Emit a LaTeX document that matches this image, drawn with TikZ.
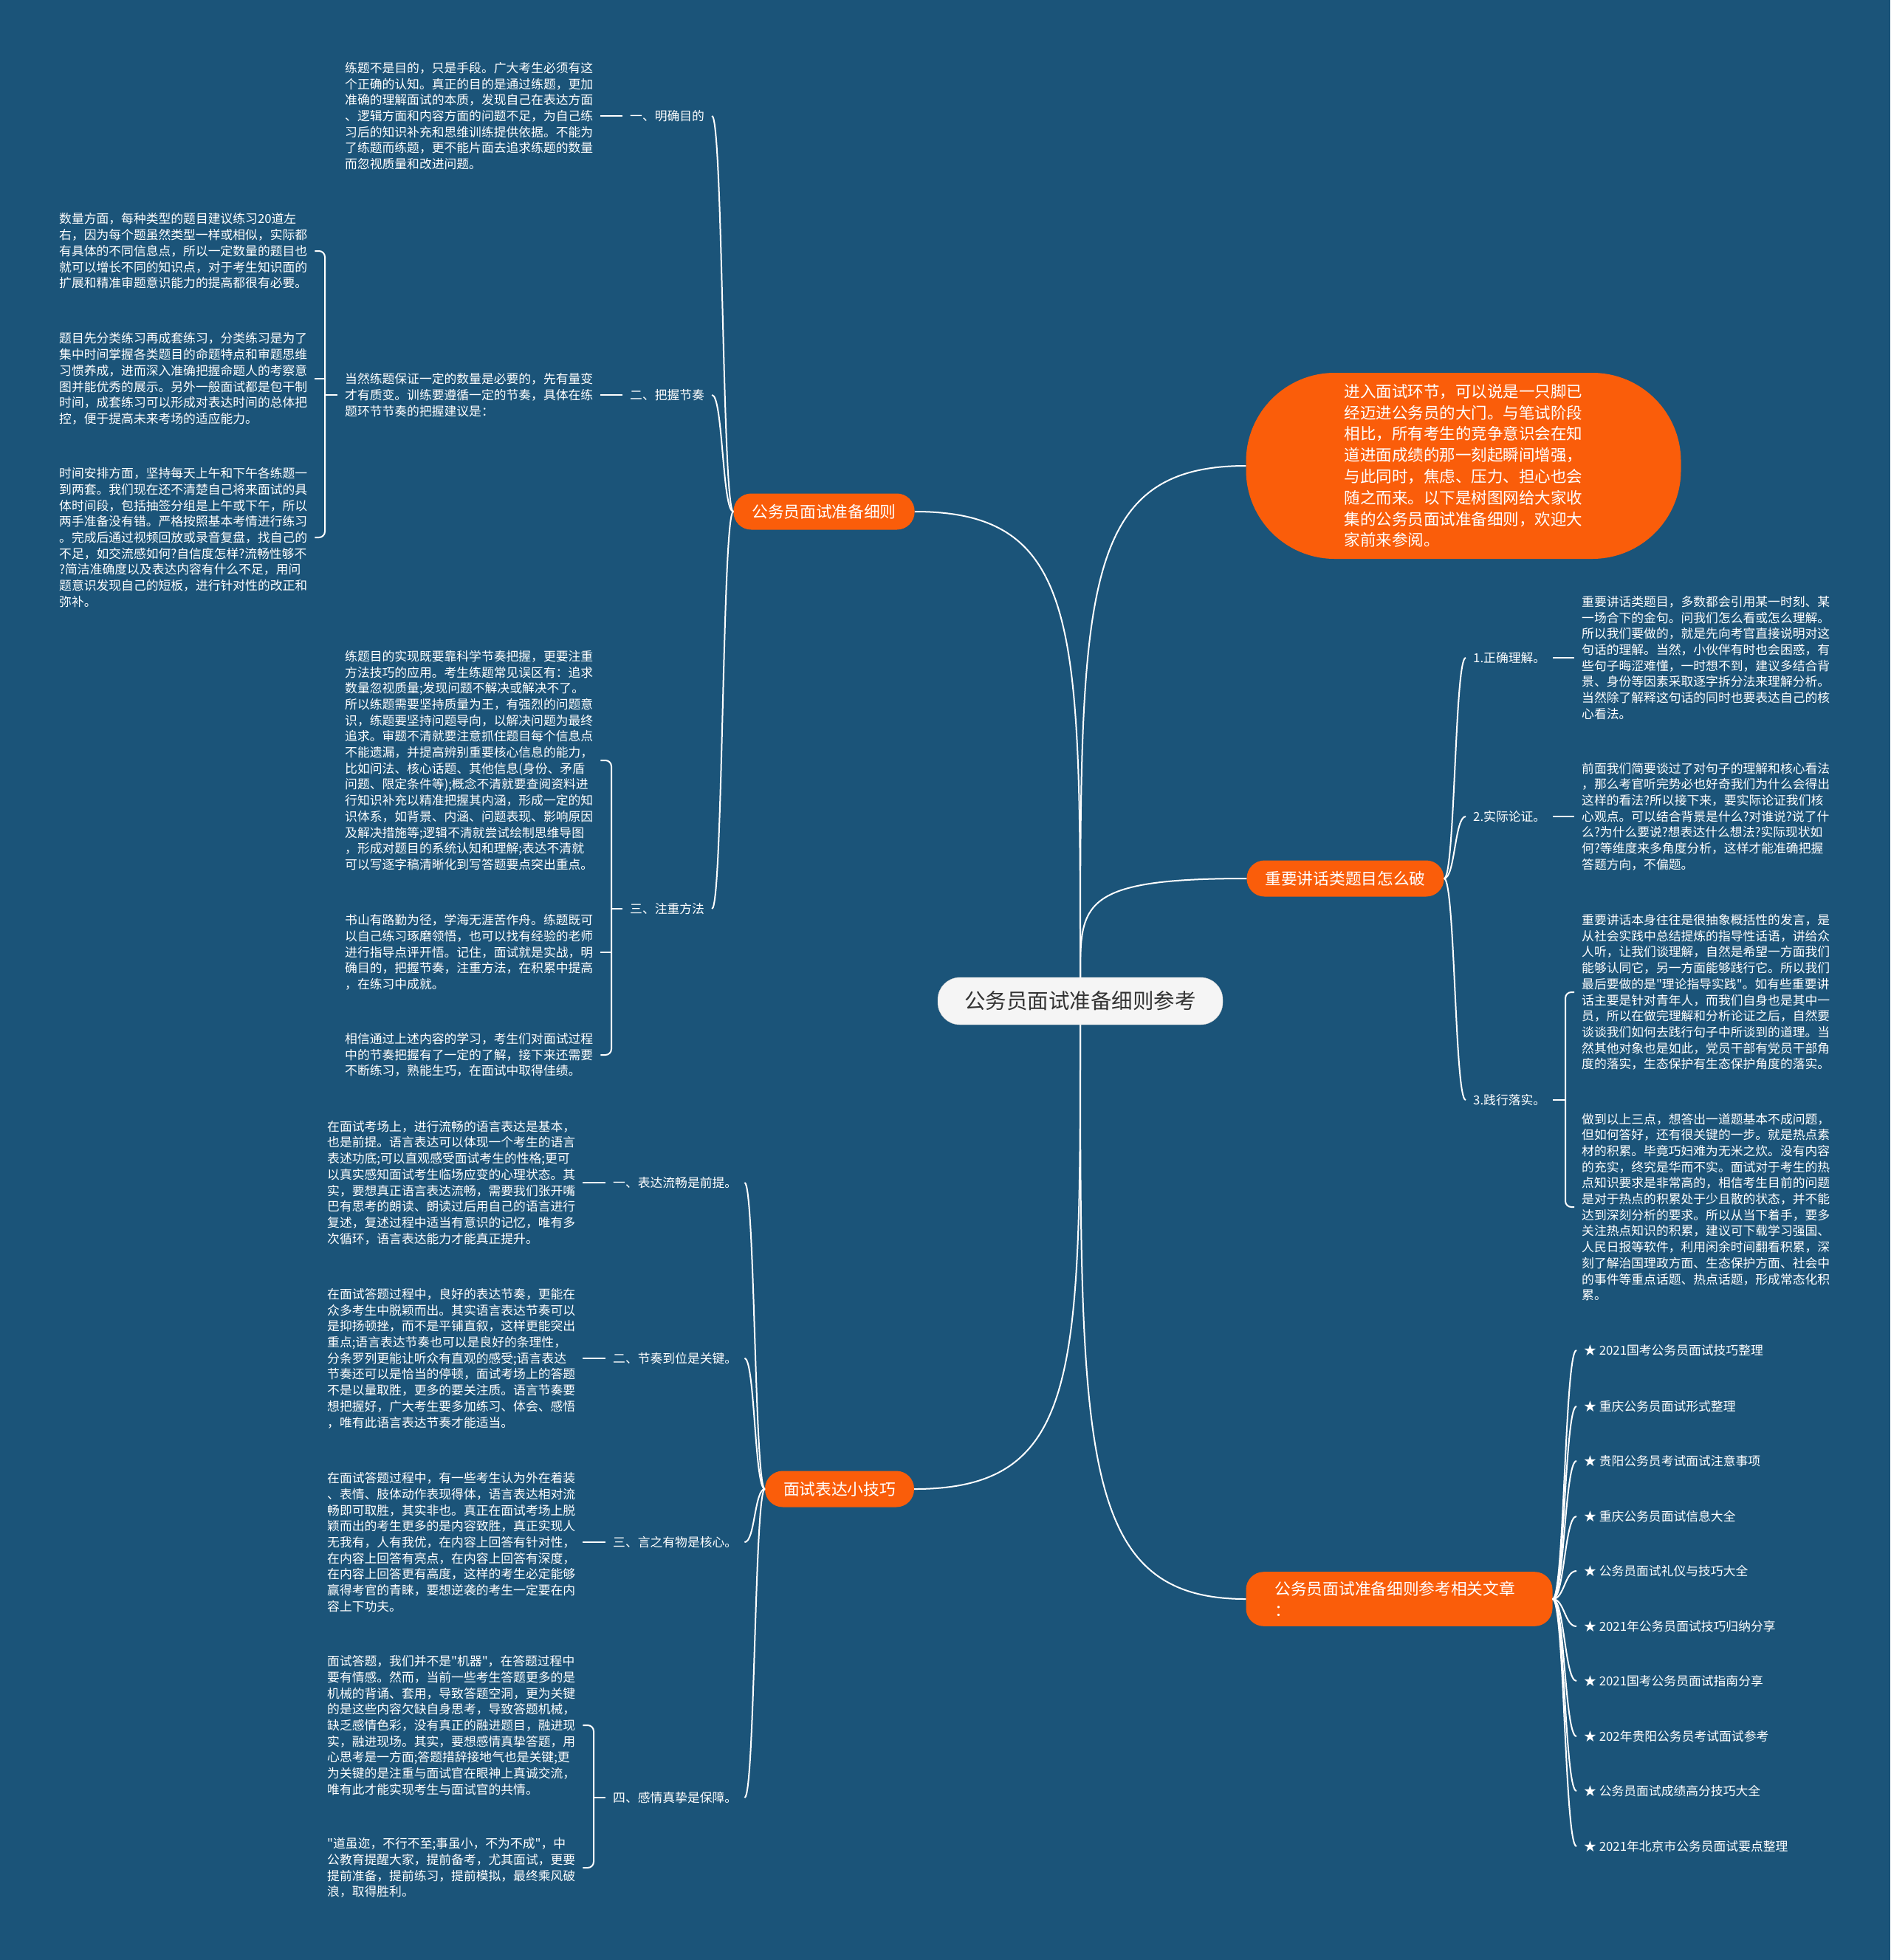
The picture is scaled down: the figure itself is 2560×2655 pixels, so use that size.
\documentclass[tikz,border=0pt]{standalone}
\usepackage{fontspec}
\setmainfont{Noto Sans CJK SC}[Ligatures=TeXOff]
\definecolor{bgblue}{RGB}{27,84,121}
\definecolor{hotorange}{RGB}{250,93,10}
\definecolor{hubfill}{RGB}{245,245,245}
\definecolor{hubtext}{RGB}{51,51,51}
\begin{document}
\begin{tikzpicture}[x=1pt, y=-1pt,
    hub/.style={draw=gray!40, fill=hubfill, text=hubtext, rounded corners=30pt,
                minimum width=386pt, minimum height=64pt,
                font=\fontsize{28.5}{34}\selectfont},
    branch/.style={fill=hotorange, text=white, rounded corners=24pt,
                   minimum height=49pt, inner xsep=25pt,
                   font=\fontsize{21.7}{29}\selectfont},
    note/.style={text=white, align=left, anchor=west, inner xsep=10pt, inner ysep=0pt,
                 font=\fontsize{16.8}{21.7}\selectfont},
    tag/.style={note},
    link/.style={draw=white, line width=2pt},
    brace/.style={link, rounded corners=8pt}]

  % ---- canvas
  \fill[bgblue] (0,0) rectangle (2560,2655);

  % ---- centre and the five main branches
  \node[hub] (root) at (1463,1356) {公务员面试准备细则参考};
  \node[branch] (prep) at (1116,693) {公务员面试准备细则};
  \node[branch] (expr) at (1137,2017) {面试表达小技巧};
  \node[branch] (talk) at (1822,1190) {重要讲话类题目怎么破};
  \node[branch, align=left, text width=337pt, inner xsep=39pt, inner ysep=13pt]
    (more) at (1895,2166) {公务员面试准备细则参考相关文章\\：};
  \node[fill=hotorange, text=white, rounded corners=120pt, align=left,
        minimum width=589pt, minimum height=252pt,
        font=\fontsize{21.5}{28.8}\selectfont] (lead) at (1982,631)
    {进入面试环节，可以说是一只脚已\\
     经迈进公务员的大门。与笔试阶段\\
     相比，所有考生的竞争意识会在知\\
     道进面成绩的那一刻起瞬间增强，\\
     与此同时，焦虑、压力、担心也会\\
     随之而来。以下是树图网给大家收\\
     集的公务员面试准备细则，欢迎大\\
     家前来参阅。};

  \draw[link] (root.north) .. controls +(0,-473) and +(225,0) .. (prep.east);
  \draw[link] (root.north) .. controls +(0,-520) and +(-225,0) .. (lead.west);
  \draw[link] (root.north) .. controls +(0,-100) and +(-225,0) .. (talk.west);
  \draw[link] (root.south) .. controls +(0,472) and +(225,0) .. (expr.east);
  \draw[link] (root.south) .. controls +(0,583) and +(-225,0) .. (more.west);

  % ---- 公务员面试准备细则
  \node[tag] (p1) at (843,157) {一、明确目的};
  \node[tag] (p2) at (843,535) {二、把握节奏};
  \node[tag] (p3) at (843,1231) {三、注重方法};
  \draw[link] (prep.west) .. controls +(-15,0) and +(15,0) .. (p1.east);
  \draw[link] (prep.west) .. controls +(-15,0) and +(15,0) .. (p2.east);
  \draw[link] (prep.west) .. controls +(-15,0) and +(15,0) .. (p3.east);

  \node[note] (p1a) at (457,157)
    {练题不是目的，只是手段。广大考生必须有这\\
     个正确的认知。真正的目的是通过练题，更加\\
     准确的理解面试的本质，发现自己在表达方面\\
     、逻辑方面和内容方面的问题不足，为自己练\\
     习后的知识补充和思维训练提供依据。不能为\\
     了练题而练题，更不能片面去追求练题的数量\\
     而忽视质量和改进问题。};
  \draw[link] (p1a) -- (p1);

  \node[note] (p2a) at (457,535)
    {当然练题保证一定的数量是必要的，先有量变\\
     才有质变。训练要遵循一定的节奏，具体在练\\
     题环节节奏的把握建议是：};
  \draw[link] (p2a) -- (p2);
  \node[note] (p2b) at (70,340)
    {数量方面，每种类型的题目建议练习20道左\\
     右，因为每个题虽然类型一样或相似，实际都\\
     有具体的不同信息点，所以一定数量的题目也\\
     就可以增长不同的知识点，对于考生知识面的\\
     扩展和精准审题意识能力的提高都很有必要。};
  \node[note] (p2c) at (70,513)
    {题目先分类练习再成套练习，分类练习是为了\\
     集中时间掌握各类题目的命题特点和审题思维\\
     习惯养成，进而深入准确把握命题人的考察意\\
     图并能优秀的展示。另外一般面试都是包干制\\
     时间，成套练习可以形成对表达时间的总体把\\
     控，便于提高未来考场的适应能力。};
  \node[note] (p2d) at (70,728)
    {时间安排方面，坚持每天上午和下午各练题一\\
     到两套。我们现在还不清楚自己将来面试的具\\
     体时间段，包括抽签分组是上午或下午，所以\\
     两手准备没有错。严格按照基本考情进行练习\\
     。完成后通过视频回放或录音复盘，找自己的\\
     不足，如交流感如何?自信度怎样?流畅性够不\\
     ?简洁准确度以及表达内容有什么不足，用问\\
     题意识发现自己的短板，进行针对性的改正和\\
     弥补。};
  \coordinate (p2k) at (440,535);
  \draw[brace] (p2b.east) -- (p2b.east -| p2k) -- (p2d.east -| p2k) -- (p2d.east);
  \draw[link] (p2c.east) -- (p2c.east -| p2k);
  \draw[link] (p2k) -- (p2a);

  \node[note] (p3a) at (457,1030)
    {练题目的实现既要靠科学节奏把握，更要注重\\
     方法技巧的应用。考生练题常见误区有：追求\\
     数量忽视质量;发现问题不解决或解决不了。\\
     所以练题需要坚持质量为王，有强烈的问题意\\
     识，练题要坚持问题导向，以解决问题为最终\\
     追求。审题不清就要注意抓住题目每个信息点\\
     不能遗漏，并提高辨别重要核心信息的能力，\\
     比如问法、核心话题、其他信息(身份、矛盾\\
     问题、限定条件等);概念不清就要查阅资料进\\
     行知识补充以精准把握其内涵，形成一定的知\\
     识体系，如背景、内涵、问题表现、影响原因\\
     及解决措施等;逻辑不清就尝试绘制思维导图\\
     ，形成对题目的系统认知和理解;表达不清就\\
     可以写逐字稿清晰化到写答题要点突出重点。};
  \node[note] (p3b) at (457,1290)
    {书山有路勤为径，学海无涯苦作舟。练题既可\\
     以自己练习琢磨领悟，也可以找有经验的老师\\
     进行指导点评开悟。记住，面试就是实战，明\\
     确目的，把握节奏，注重方法，在积累中提高\\
     ，在练习中成就。};
  \node[note] (p3c) at (457,1429)
    {相信通过上述内容的学习，考生们对面试过程\\
     中的节奏把握有了一定的了解，接下来还需要\\
     不断练习，熟能生巧，在面试中取得佳绩。};
  \coordinate (p3k) at (828,1231);
  \draw[brace] (p3a.east) -- (p3a.east -| p3k) -- (p3c.east -| p3k) -- (p3c.east);
  \draw[link] (p3b.east) -- (p3b.east -| p3k);
  \draw[link] (p3k) -- (p3);

  % ---- 重要讲话类题目怎么破
  \node[tag] (t1) at (1985,891) {1.正确理解。};
  \node[tag] (t2) at (1985,1106) {2.实际论证。};
  \node[tag] (t3) at (1985,1490) {3.践行落实。};
  \draw[link] (talk.east) .. controls +(15,0) and +(-15,0) .. (t1.west);
  \draw[link] (talk.east) .. controls +(15,0) and +(-15,0) .. (t2.west);
  \draw[link] (talk.east) .. controls +(15,0) and +(-15,0) .. (t3.west);

  \node[note] (t1a) at (2132,891)
    {重要讲话类题目，多数都会引用某一时刻、某\\
     一场合下的金句。问我们怎么看或怎么理解。\\
     所以我们要做的，就是先向考官直接说明对这\\
     句话的理解。当然，小伙伴有时也会困惑，有\\
     些句子晦涩难懂，一时想不到，建议多结合背\\
     景、身份等因素采取逐字拆分法来理解分析。\\
     当然除了解释这句话的同时也要表达自己的核\\
     心看法。};
  \draw[link] (t1) -- (t1a);
  \node[note] (t2a) at (2132,1106)
    {前面我们简要谈过了对句子的理解和核心看法\\
     ，那么考官听完势必也好奇我们为什么会得出\\
     这样的看法?所以接下来，要实际论证我们核\\
     心观点。可以结合背景是什么?对谁说?说了什\\
     么?为什么要说?想表达什么想法?实际现状如\\
     何?等维度来多角度分析，这样才能准确把握\\
     答题方向，不偏题。};
  \draw[link] (t2) -- (t2a);
  \node[note] (t3a) at (2132,1344)
    {重要讲话本身往往是很抽象概括性的发言，是\\
     从社会实践中总结提炼的指导性话语，讲给众\\
     人听，让我们谈理解，自然是希望一方面我们\\
     能够认同它，另一方面能够践行它。所以我们\\
     最后要做的是"理论指导实践"。如有些重要讲\\
     话主要是针对青年人，而我们自身也是其中一\\
     员，所以在做完理解和分析论证之后，自然要\\
     谈谈我们如何去践行句子中所谈到的道理。当\\
     然其他对象也是如此，党员干部有党员干部角\\
     度的落实，生态保护有生态保护角度的落实。};
  \node[note] (t3b) at (2132,1635)
    {做到以上三点，想答出一道题基本不成问题，\\
     但如何答好，还有很关键的一步。就是热点素\\
     材的积累。毕竟巧妇难为无米之炊。没有内容\\
     的充实，终究是华而不实。面试对于考生的热\\
     点知识要求是非常高的，相信考生目前的问题\\
     是对于热点的积累处于少且散的状态，并不能\\
     达到深刻分析的要求。所以从当下着手，要多\\
     关注热点知识的积累，建议可下载学习强国、\\
     人民日报等软件，利用闲余时间翻看积累，深\\
     刻了解治国理政方面、生态保护方面、社会中\\
     的事件等重点话题、热点话题，形成常态化积\\
     累。};
  \coordinate (t3k) at (2120,1490);
  \draw[link] (t3) -- (t3k);
  \draw[brace] (t3a.west) -- (t3a.west -| t3k) -- (t3b.west -| t3k) -- (t3b.west);

  % ---- 面试表达小技巧
  \node[tag] (e1) at (820,1602) {一、表达流畅是前提。};
  \node[tag] (e2) at (820,1840) {二、节奏到位是关键。};
  \node[tag] (e3) at (820,2089) {三、言之有物是核心。};
  \node[tag] (e4) at (820,2435) {四、感情真挚是保障。};
  \draw[link] (expr.west) .. controls +(-14,0) and +(14,0) .. (e1.east);
  \draw[link] (expr.west) .. controls +(-14,0) and +(14,0) .. (e2.east);
  \draw[link] (expr.west) .. controls +(-14,0) and +(14,0) .. (e3.east);
  \draw[link] (expr.west) .. controls +(-14,0) and +(14,0) .. (e4.east);

  \node[note] (e1a) at (433,1602)
    {在面试考场上，进行流畅的语言表达是基本，\\
     也是前提。语言表达可以体现一个考生的语言\\
     表述功底;可以直观感受面试考生的性格;更可\\
     以真实感知面试考生临场应变的心理状态。其\\
     实，要想真正语言表达流畅，需要我们张开嘴\\
     巴有思考的朗读、朗读过后用自己的语言进行\\
     复述，复述过程中适当有意识的记忆，唯有多\\
     次循环，语言表达能力才能真正提升。};
  \draw[link] (e1a) -- (e1);
  \node[note] (e2a) at (433,1840)
    {在面试答题过程中，良好的表达节奏，更能在\\
     众多考生中脱颖而出。其实语言表达节奏可以\\
     是抑扬顿挫，而不是平铺直叙，这样更能突出\\
     重点;语言表达节奏也可以是良好的条理性，\\
     分条罗列更能让听众有直观的感受;语言表达\\
     节奏还可以是恰当的停顿，面试考场上的答题\\
     不是以量取胜，更多的要关注质。语言节奏要\\
     想把握好，广大考生要多加练习、体会、感悟\\
     ，唯有此语言表达节奏才能适当。};
  \draw[link] (e2a) -- (e2);
  \node[note] (e3a) at (433,2089)
    {在面试答题过程中，有一些考生认为外在着装\\
     、表情、肢体动作表现得体，语言表达相对流\\
     畅即可取胜，其实非也。真正在面试考场上脱\\
     颖而出的考生更多的是内容致胜，真正实现人\\
     无我有，人有我优，在内容上回答有针对性，\\
     在内容上回答有亮点，在内容上回答有深度，\\
     在内容上回答更有高度，这样的考生必定能够\\
     赢得考官的青睐，要想逆袭的考生一定要在内\\
     容上下功夫。};
  \draw[link] (e3a) -- (e3);
  \node[note] (e4a) at (433,2337)
    {面试答题，我们并不是"机器"，在答题过程中\\
     要有情感。然而，当前一些考生答题更多的是\\
     机械的背诵、套用，导致答题空洞，更为关键\\
     的是这些内容欠缺自身思考，导致答题机械，\\
     缺乏感情色彩，没有真正的融进题目，融进现\\
     实，融进现场。其实，要想感情真挚答题，用\\
     心思考是一方面;答题措辞接地气也是关键;更\\
     为关键的是注重与面试官在眼神上真诚交流，\\
     唯有此才能实现考生与面试官的共情。};
  \node[note] (e4b) at (433,2530)
    {"道虽迩，不行不至;事虽小，不为不成"，中\\
     公教育提醒大家，提前备考，尤其面试，更要\\
     提前准备，提前练习，提前模拟，最终乘风破\\
     浪，取得胜利。};
  \coordinate (e4k) at (804,2435);
  \draw[brace] (e4a.east) -- (e4a.east -| e4k) -- (e4b.east -| e4k) -- (e4b.east);
  \draw[link] (e4k) -- (e4);

  % ---- related articles
  \foreach \y/\t [count=\i] in {1829/2021国考公务员面试技巧整理,
                               1905/重庆公务员面试形式整理,
                               1979/贵阳公务员考试面试注意事项,
                               2054/重庆公务员面试信息大全,
                               2128/公务员面试礼仪与技巧大全,
                               2203/2021年公务员面试技巧归纳分享,
                               2277/2021国考公务员面试指南分享,
                               2352/202年贵阳公务员考试面试参考,
                               2426/公务员面试成绩高分技巧大全,
                               2501/2021年北京市公务员面试要点整理} {
    \node[tag] (r\i) at (2135,\y) {★ \t};
    \draw[link] (more.east) .. controls +(16,0) and +(-16,0) .. (r\i.west);
  }
\end{tikzpicture}
\end{document}
